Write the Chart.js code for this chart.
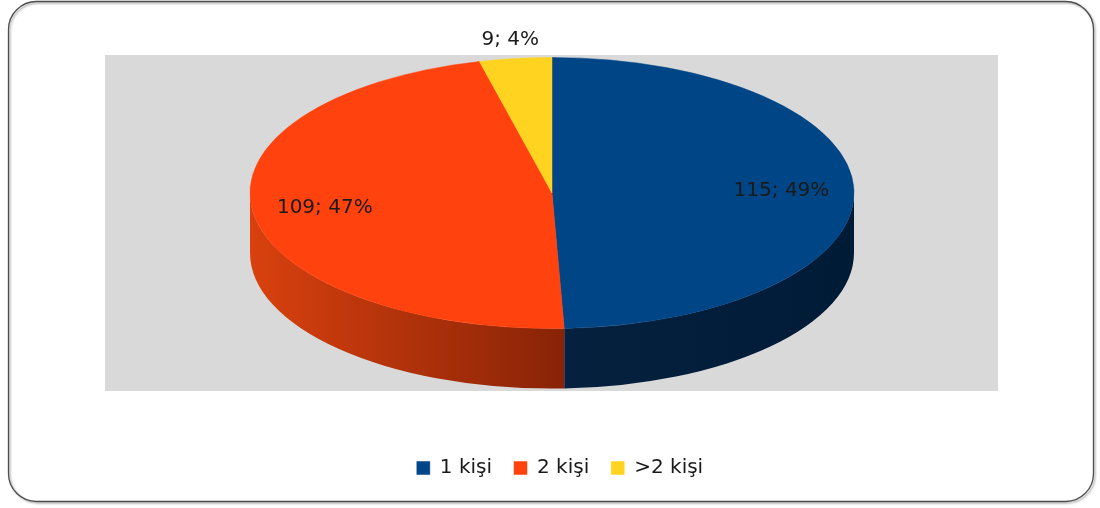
<!DOCTYPE html>
<html>
<head>
<meta charset="utf-8">
<script src="https://cdn.jsdelivr.net/npm/chart.js@4.4.0/dist/chart.umd.min.js"></script>
<style>
  html, body { margin: 0; padding: 0; background: #fff; }
  #wrap { width: 1100px; height: 508px; position: relative; }
</style>
</head>
<body>
<div id="wrap"><canvas id="chart"></canvas></div>
<script>
// data
const categories = ['1 kişi', '2 kişi', '>2 kişi'];
const counts = [115, 109, 9];

// styles
const topColors = ['#004586', '#ff420e', '#ffd320'];
const sideColors = [['#06213f', '#001b36'], ['#d9410e', '#882307'], ['#d4ae12', '#8c720a']];
const PIE = { cx: 552, cy: 193, rx: 302, ry: 135.5, depth: 60 };
const PLOT = { x: 105, y: 55, w: 893, h: 336 };
const FONT = 'DejaVu Sans';

const total = counts.reduce((a, b) => a + b, 0);

// fake 3d: squash the library's circle into an ellipse and add the front wall
const pie3d = {
  id: 'pie3d',
  beforeDraw(chart) {
    const ctx = chart.ctx;
    ctx.save();
    ctx.fillStyle = '#fff';
    ctx.fillRect(0, 0, chart.width, chart.height);
    ctx.shadowColor = 'rgba(0,0,0,0.35)';
    ctx.shadowOffsetX = 1.5;
    ctx.shadowOffsetY = 1.5;
    ctx.shadowBlur = 2;
    ctx.beginPath();
    ctx.roundRect(8.5, 1.5, 1085, 500, 28);
    ctx.strokeStyle = '#4d4d4d';
    ctx.lineWidth = 1.3;
    ctx.stroke();
    ctx.restore();
    ctx.fillStyle = '#d9d9d9';
    ctx.fillRect(PLOT.x, PLOT.y, PLOT.w, PLOT.h);
  },
  beforeDatasetsDraw(chart) {
    const ctx = chart.ctx;
    const arcs = chart.getDatasetMeta(0).data;
    arcs.forEach((arc, i) => {
      for (let k = -1; k <= 1; k++) {
        const s = Math.max(arc.startAngle, k * 2 * Math.PI);
        const e = Math.min(arc.endAngle, k * 2 * Math.PI + Math.PI);
        if (e <= s) continue;
        const x0 = PIE.cx + PIE.rx * Math.cos(s);
        const x1 = PIE.cx + PIE.rx * Math.cos(e);
        const g = ctx.createLinearGradient(Math.min(x0, x1), 0, Math.max(x0, x1), 0);
        g.addColorStop(0, sideColors[i][0]);
        g.addColorStop(1, sideColors[i][1]);
        ctx.fillStyle = g;
        ctx.beginPath();
        ctx.ellipse(PIE.cx, PIE.cy, PIE.rx, PIE.ry, 0, s, e);
        ctx.ellipse(PIE.cx, PIE.cy + PIE.depth, PIE.rx, PIE.ry, 0, e, s, true);
        ctx.closePath();
        ctx.fill();
      }
    });
    const a = arcs[0];
    ctx.save();
    ctx.translate(PIE.cx, PIE.cy);
    ctx.scale(PIE.rx / a.outerRadius, PIE.ry / a.outerRadius);
    ctx.translate(-a.x, -a.y);
  },
  afterDatasetsDraw(chart) {
    const ctx = chart.ctx;
    ctx.restore();
    const arcs = chart.getDatasetMeta(0).data;
    ctx.save();
    ctx.font = '20px "' + FONT + '"';
    ctx.fillStyle = '#1a1a1a';
    ctx.textAlign = 'center';
    ctx.textBaseline = 'middle';
    arcs.forEach((arc, i) => {
      const pct = Math.round(counts[i] / total * 100);
      const mid = (arc.startAngle + arc.endAngle) / 2;
      const f = pct < 10 ? 1.14 : 0.76;
      const x = PIE.cx + PIE.rx * f * Math.cos(mid);
      const y = PIE.cy + PIE.ry * f * Math.sin(mid);
      ctx.fillText(counts[i] + '; ' + pct + '%', x, y);
    });
    ctx.restore();
  }
};

new Chart(document.getElementById('chart'), {
  type: 'pie',
  data: {
    labels: categories,
    datasets: [{
      data: counts,
      backgroundColor: topColors,
      borderColor: topColors,
      borderWidth: 0.5,
      clip: false
    }]
  },
  options: {
    responsive: true,
    maintainAspectRatio: false,
    animation: false,
    events: [],
    layout: { padding: { left: 20, right: 0, top: 10, bottom: 20 } },
    plugins: {
      legend: {
        position: 'bottom',
        labels: {
          boxWidth: 13,
          boxHeight: 13,
          padding: 22,
          color: '#1a1a1a',
          font: { family: FONT, size: 20 }
        }
      },
      tooltip: { enabled: false }
    }
  },
  plugins: [pie3d]
});
</script>
</body>
</html>
